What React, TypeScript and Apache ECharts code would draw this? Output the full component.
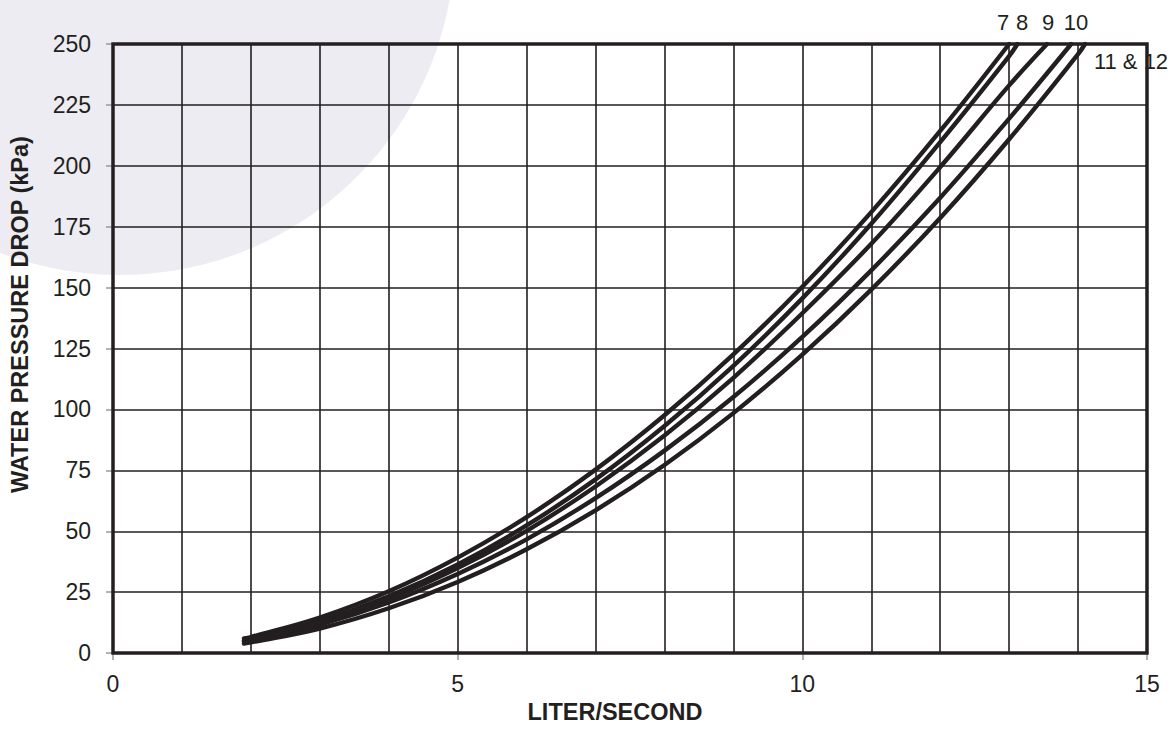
import React, { useEffect, useRef } from 'react';
import * as echarts from 'echarts';

// Flow (L/s) vs water pressure drop (kPa)
const curve7: [number, number][] = [
  [1.9, 6], [2, 6.6], [3, 14.6], [4, 25.4], [5, 39.2], [6, 55.8], [7, 75.3],
  [8, 97.6], [9, 122.6], [10, 150.4], [11, 181], [12, 214.3], [13, 250],
];
const curve8: [number, number][] = [
  [1.9, 5.3], [2, 5.8], [3, 13.1], [4, 23.3], [5, 36.4], [6, 52.4], [7, 71.3],
  [8, 93.2], [9, 117.9], [10, 145.6], [11, 176.2], [12, 209.7], [13, 245], [13.12, 250],
];
const curve9: [number, number][] = [
  [1.9, 5.0], [2, 5.6], [3, 12.6], [4, 22.3], [5, 34.9], [6, 50.2], [7, 68.4],
  [8, 89.3], [9, 113], [10, 139.5], [11, 168], [12, 199.5], [13, 233], [13.55, 250],
];
const curve10: [number, number][] = [
  [1.9, 4.7], [2, 5.2], [3, 11.7], [4, 20.8], [5, 32.5], [6, 46.7], [7, 63.6],
  [8, 83.1], [9, 105.1], [10, 129.8], [11, 157.1], [12, 186.9], [13, 219.4], [13.9, 250],
];
const curve11and12: [number, number][] = [
  [1.9, 3.9], [2, 4.4], [3, 10.1], [4, 18.4], [5, 29.2], [6, 42.6], [7, 58.6],
  [8, 77.2], [9, 98.5], [10, 122.5], [11, 149.2], [12, 178.6], [13, 210.9], [14, 245.8], [14.1, 250],
];

const seriesNames = ['7', '8', '9', '10', '11 & 12'];
const seriesData = [curve7, curve8, curve9, curve10, curve11and12];

const X_MIN = 0;
const X_MAX = 15;
const X_LABEL_STEP = 5;
const Y_MIN = 0;
const Y_MAX = 250;
const Y_STEP = 25;

const X_TITLE = 'LITER/SECOND';
const Y_TITLE = 'WATER PRESSURE DROP (kPa)';

const INK = '#231f20';
const FONT = '"Liberation Sans", Arial, Helvetica, sans-serif';

export default function App() {
  const ref = useRef<HTMLDivElement>(null);

  useEffect(() => {
    if (!ref.current) return;
    const chart = echarts.init(ref.current, null, { renderer: 'svg' });

    const gridLine = { color: INK, width: 1.6 };
    const noteStyle = (text: string) => ({
      text,
      fontSize: 22,
      fontFamily: FONT,
      fill: INK,
      textAlign: 'center',
      textVerticalAlign: 'middle',
    });

    chart.setOption({
      animation: false,
      backgroundColor: '#ffffff',
      textStyle: { fontFamily: FONT },
      grid: {
        left: 110,
        right: 27,
        top: 44,
        bottom: 70,
        show: true,
        borderColor: INK,
        borderWidth: 3.5,
        backgroundColor: 'transparent',
        z: 3,
      },
      xAxis: {
        type: 'value',
        min: X_MIN,
        max: X_MAX,
        interval: X_LABEL_STEP,
        axisLine: { show: false },
        axisTick: { show: true, length: 7, lineStyle: { color: '#9a9a9a', width: 1.5 } },
        minorTick: { show: false, splitNumber: 5 },
        splitLine: { show: true, lineStyle: gridLine },
        minorSplitLine: { show: true, lineStyle: gridLine },
        axisLabel: { margin: 19, fontSize: 23, color: INK, fontFamily: FONT },
        name: X_TITLE,
        nameLocation: 'middle',
        nameGap: 43,
        nameTextStyle: {
          fontSize: 23.5,
          fontWeight: 'bold',
          color: INK,
          fontFamily: FONT,
          padding: [0, 30, 0, 0],
        },
      },
      yAxis: {
        type: 'value',
        min: Y_MIN,
        max: Y_MAX,
        interval: Y_STEP,
        axisLine: { show: false },
        axisTick: { show: true, length: 7, lineStyle: { color: '#9a9a9a', width: 1.5 } },
        splitLine: { show: true, lineStyle: gridLine },
        axisLabel: { margin: 22, fontSize: 23, color: INK, fontFamily: FONT },
        name: Y_TITLE,
        nameLocation: 'middle',
        nameGap: 81,
        nameTextStyle: {
          fontSize: 23.5,
          fontWeight: 'bold',
          color: INK,
          fontFamily: FONT,
          padding: [0, 0, 0, 68],
        },
      },
      graphic: [
        {
          type: 'circle',
          silent: true,
          z: -10,
          shape: { cx: 120, cy: -60, r: 335 },
          style: { fill: '#ececf2' },
        },
        { type: 'text', x: 1003, y: 22, silent: true, style: noteStyle('7') },
        { type: 'text', x: 1022, y: 22, silent: true, style: noteStyle('8') },
        { type: 'text', x: 1048, y: 22, silent: true, style: noteStyle('9') },
        { type: 'text', x: 1076, y: 22, silent: true, style: noteStyle('10') },
        { type: 'text', x: 1131, y: 61, silent: true, style: noteStyle('11 & 12') },
      ],
      series: seriesData.map((data, i) => ({
        name: seriesNames[i],
        type: 'line',
        data,
        showSymbol: false,
        smooth: 0.4,
        z: 5,
        lineStyle: { color: INK, width: 4.4, cap: 'round', join: 'round' },
      })),
    });

    return () => chart.dispose();
  }, []);

  return (
    <div
      ref={ref}
      style={{ position: 'fixed', left: 0, top: 0, width: 1174, height: 729 }}
    />
  );
}
